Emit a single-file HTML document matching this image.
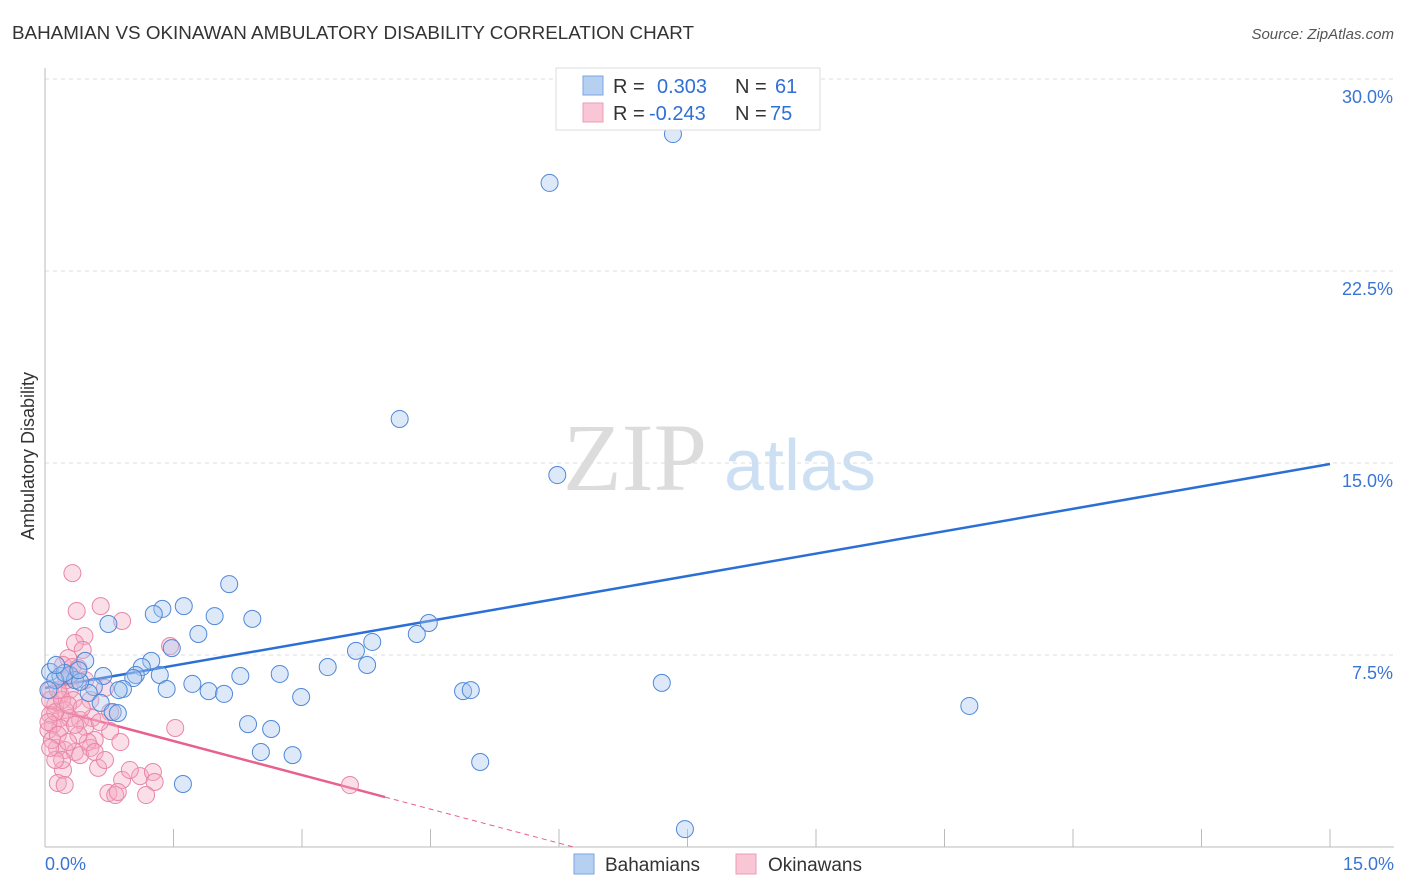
<!DOCTYPE html>
<html><head><meta charset="utf-8"><style>
body{margin:0;background:#fff;font-family:"Liberation Sans",sans-serif;}
svg{display:block}
</style></head><body>
<svg id="chart" width="1406" height="892" xmlns="http://www.w3.org/2000/svg">
<text x="12" y="39" font-size="18" fill="#333" textLength="682" lengthAdjust="spacingAndGlyphs">BAHAMIAN VS OKINAWAN AMBULATORY DISABILITY CORRELATION CHART</text>
<text x="1394" y="39" font-size="15" fill="#555" font-style="italic" text-anchor="end">Source: ZipAtlas.com</text>
<g>
<text x="635" y="490" font-size="96" fill="#dcdcdc" text-anchor="middle" font-family="Liberation Serif,serif">ZIP</text>
<text x="800" y="490" font-size="72" fill="#cddff3" text-anchor="middle">atlas</text>
</g>
<g id="grid"></g><g id="axes"></g><g id="trends"></g><g id="pts"></g>
<text transform="translate(34,456) rotate(-90)" font-size="18" fill="#333" text-anchor="middle">Ambulatory Disability</text>
<g>
<rect x="556" y="68" width="264" height="62" fill="#fff" stroke="#ddd"/>
<rect x="583" y="76" width="20" height="19" fill="#b6d0f2" stroke="#7aa6e0"/>
<rect x="583" y="103" width="20" height="19" fill="#f9c6d5" stroke="#ee9bb6"/>
<text x="613" y="93" font-size="20" fill="#333">R = <tspan fill="#2f6fd6" x="657">0.303</tspan><tspan x="735" fill="#333">N = </tspan><tspan fill="#2f6fd6" x="775">61</tspan></text>
<text x="613" y="120" font-size="20" fill="#333">R = <tspan fill="#2f6fd6" x="649">-0.243</tspan><tspan x="735" fill="#333">N = </tspan><tspan fill="#2f6fd6" x="770">75</tspan></text>
</g>
<g>
<rect x="574" y="854" width="20" height="20" fill="#b6d0f2" stroke="#7aa6e0"/>
<text x="605" y="871" font-size="19" fill="#333">Bahamians</text>
<rect x="736" y="854" width="20" height="20" fill="#f9c6d5" stroke="#ee9bb6"/>
<text x="768" y="871" font-size="19" fill="#333">Okinawans</text>
</g>
</svg>
<script>
const blueX=[7.33,5.89,4.14,5.98,2.15,1.62,1.37,1.27,1.98,2.42,0.74,4.48,4.34,1.79,3.82,1.48,3.63,1.24,0.47,3.30,3.76,1.13,1.06,1.34,1.03,0.68,2.28,2.74,0.06,0.18,0.29,0.35,0.57,0.91,0.86,1.72,1.42,1.91,2.09,2.99,4.88,4.97,7.20,0.51,0.65,0.79,0.85,10.79,2.37,2.64,2.52,2.89,5.08,1.61,7.47,0.12,0.23,0.41,0.04,0.13,0.39];
const blueY=[27.85,25.94,16.72,14.53,10.27,9.41,9.30,9.10,9.02,8.91,8.71,8.75,8.32,8.32,8.01,7.77,7.66,7.27,7.27,7.03,7.11,7.03,6.72,6.72,6.60,6.68,6.68,6.76,6.84,6.68,6.72,6.52,6.25,6.17,6.13,6.37,6.17,6.09,5.98,5.86,6.09,6.13,6.41,6.02,5.63,5.27,5.23,5.51,4.80,4.61,3.71,3.59,3.32,2.46,0.70,6.52,6.80,6.45,6.13,7.11,6.91];
const pinkX=[0.32,0.65,0.37,0.90,0.46,0.35,1.46,0.44,0.27,0.21,0.32,0.39,0.47,0.70,0.06,0.18,0.29,0.33,0.12,0.23,0.06,0.18,0.29,0.41,0.55,0.09,0.18,0.04,0.47,0.76,1.52,0.58,0.23,0.35,0.53,0.14,0.41,0.88,0.62,0.21,0.90,1.11,1.26,1.28,0.15,0.23,0.74,0.82,0.85,1.18,3.56,0.06,0.12,0.20,0.27,0.04,0.08,0.15,0.50,0.58,0.76,0.64,0.39,0.25,0.15,0.29,0.53,0.70,0.99,0.20,0.12,0.43,0.35,0.27,0.06];
const pinkY=[10.70,9.41,9.22,8.83,8.24,7.97,7.85,7.70,7.38,7.11,7.03,6.99,6.52,6.21,6.13,5.94,6.13,5.74,5.55,5.35,5.16,5.04,5.04,4.96,5.04,4.77,4.65,4.57,4.69,4.53,4.65,4.18,3.79,3.71,3.87,3.87,3.59,4.10,3.09,3.01,2.62,2.77,2.93,2.54,2.50,2.42,2.11,2.03,2.15,2.03,2.42,5.74,5.27,5.74,5.55,4.88,4.18,4.38,4.10,3.71,5.27,4.88,4.38,6.52,6.13,6.68,5.74,3.40,3.01,3.40,3.40,5.43,4.77,4.10,3.87];
const yTicks=[7.5,15,22.5,30];
const xTickLabels=["0.0%","15.0%"];
const blueTrend=[6.21,14.96];
const pinkTrend=[5.47,1.95,3.97];
const NS="http://www.w3.org/2000/svg";
const sx=v=>45+v/15*1285, sy=v=>847-v/7.5*192;
function mk(t,a,p){const e=document.createElementNS(NS,t);for(const k in a)e.setAttribute(k,a[k]);p.appendChild(e);return e;}
const grid=document.getElementById('grid'),axes=document.getElementById('axes'),tr=document.getElementById('trends'),pts=document.getElementById('pts');
yTicks.forEach(v=>{
 const l=mk('line',{x1:45,x2:1394,y1:sy(v),y2:sy(v),stroke:'#ddd','stroke-dasharray':'4,4'},grid);
 
 
 const t=mk('text',{x:1393,y:sy(v)+24,'font-size':18,fill:'#3a74d4','text-anchor':'end'},axes);
 t.textContent=v.toFixed(1)+'%';
 
 
});
const ya=mk('line',{x1:45,x2:45,y1:68,y2:847,stroke:'#bbb'},axes);


const xa=mk('line',{x1:45,x2:1394,y1:847,y2:847,stroke:'#bbb'},axes);


for(let i=1;i<=10;i++){const tk=mk('line',{x1:sx(i*1.5),x2:sx(i*1.5),y1:829,y2:847,stroke:'#bbb'},axes);
 
 }
[[0,45,'start'],[1,1394,'end']].forEach(([i,x,a])=>{const t=mk('text',{x:x,y:870,'font-size':18,fill:'#3a74d4','text-anchor':a},axes);t.textContent=xTickLabels[i];
 
 });
function dots(X,Y,fill,stroke,name){X.forEach((x,i)=>{const c=mk('circle',{cx:sx(x),cy:sy(Y[i]),r:8.5,fill:fill,'fill-opacity':0.38,stroke:stroke,'stroke-width':1},pts);
 
 });}
dots(pinkX,pinkY,'#f5aac2','#e986a7','okinawan-point');
dots(blueX,blueY,'#a6c6ee','#4f88d8','bahamian-point');
const bl=mk('line',{x1:sx(0),y1:sy(blueTrend[0]),x2:sx(15),y2:sy(blueTrend[1]),stroke:'#2a6fd6','stroke-width':2.5},tr);


const slope=(pinkTrend[1]-pinkTrend[0])/pinkTrend[2];
const pl=mk('line',{x1:sx(0),y1:sy(pinkTrend[0]),x2:sx(pinkTrend[2]),y2:sy(pinkTrend[1]),stroke:'#e8608c','stroke-width':2.5},tr);


const xe=-pinkTrend[0]/slope;
const pd=mk('line',{x1:sx(pinkTrend[2]),y1:sy(pinkTrend[1]),x2:sx(xe),y2:sy(0),stroke:'#e8608c','stroke-width':1,'stroke-dasharray':'5,4'},tr);


</script>
</body></html>
